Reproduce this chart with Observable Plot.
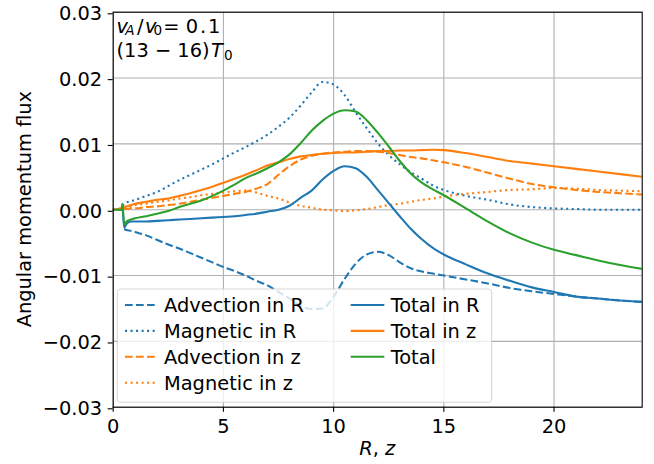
<!DOCTYPE html>
<html>
<head>
<meta charset="utf-8">
<script src="https://cdn.jsdelivr.net/npm/d3@7"></script>
<script src="https://cdn.jsdelivr.net/npm/@observablehq/plot@0.6"></script>
<style>
html, body { margin: 0; padding: 0; background: #fff; }
#chart svg { display: block; }
</style>
</head>
<body>
<div id="chart"></div>
<script>
// ---- data ----
const R = [0, 0.38, 0.42, 0.5, 0.6, 0.8, 1, 1.5, 2, 2.5, 3, 3.5, 4, 4.5, 5, 5.5, 6, 6.5, 7, 7.5, 8, 8.5, 9, 9.5, 10, 10.5, 11, 11.5, 12, 12.5, 13, 13.5, 14, 14.5, 15, 16, 17, 18, 19, 20, 21, 22, 23, 24];

const advectionR = [null, null, null, -0.0029, -0.0031, -0.0032, -0.0034, -0.0039, -0.0046, -0.0053, -0.0059, -0.0066, -0.0073, -0.0080, -0.0087, -0.0093, -0.0100, -0.0108, -0.0115, -0.0125, -0.0135, -0.0146, -0.0151, -0.0150, -0.0132, -0.0105, -0.0082, -0.0068, -0.0064, -0.0069, -0.0080, -0.0089, -0.0094, -0.0097, -0.0100, -0.0106, -0.0112, -0.0119, -0.0124, -0.0128, -0.0132, -0.0135, -0.0138, -0.0140];
const magneticR = [null, null, 0.0006, 0.0009, 0.0011, 0.0013, 0.0015, 0.0021, 0.0027, 0.0036, 0.0045, 0.0053, 0.0061, 0.0069, 0.0078, 0.0087, 0.0095, 0.0104, 0.0114, 0.0126, 0.0140, 0.0158, 0.0178, 0.0194, 0.0190, 0.0174, 0.0148, 0.0124, 0.0101, 0.0083, 0.0069, 0.0057, 0.0047, 0.0037, 0.0030, 0.0021, 0.0015, 0.0008, 0.0004, 0.0002, 0.0001, 0.0000, 0.0000, 0.0000];
const advectionZ = [0, 0.0001, 0.0001, 0.0001, 0.0001, 0.0002, 0.0002, 0.0004, 0.0005, 0.0007, 0.0009, 0.0012, 0.0015, 0.0018, 0.0021, 0.0024, 0.0027, 0.0032, 0.0039, 0.0053, 0.0066, 0.0076, 0.0082, 0.0085, 0.0087, 0.0088, 0.0089, 0.0089, 0.0088, 0.0086, 0.0083, 0.0080, 0.0078, 0.0075, 0.0072, 0.0065, 0.0056, 0.0047, 0.0039, 0.0034, 0.0030, 0.0027, 0.0025, 0.0023];
const magneticZ = [0, 0.0002, 0.0002, 0.0003, 0.0004, 0.0005, 0.0007, 0.0009, 0.0012, 0.0014, 0.0017, 0.0019, 0.0022, 0.0024, 0.0026, 0.0028, 0.0029, 0.0026, 0.0021, 0.0017, 0.0011, 0.0006, 0.0003, 0.0000, -0.0001, -0.0002, -0.0001, 0.0001, 0.0004, 0.0007, 0.0009, 0.0012, 0.0015, 0.0017, 0.0020, 0.0024, 0.0027, 0.0030, 0.0031, 0.0033, 0.0032, 0.0030, 0.0029, 0.0028];
const totalR = [0, 0, 0.0001, -0.0027, -0.0022, -0.0018, -0.0018, -0.0018, -0.0017, -0.0016, -0.0015, -0.0014, -0.0013, -0.0012, -0.0011, -0.0010, -0.0008, -0.0006, -0.0003, 0.0000, 0.0006, 0.0018, 0.0029, 0.0046, 0.0059, 0.0066, 0.0063, 0.0050, 0.0030, 0.0010, -0.0010, -0.0029, -0.0045, -0.0058, -0.0068, -0.0083, -0.0097, -0.0108, -0.0118, -0.0125, -0.0132, -0.0135, -0.0138, -0.0140];
const totalZ = [0, 0.0002, 0.0003, 0.0004, 0.0005, 0.0007, 0.0009, 0.0012, 0.0015, 0.0017, 0.0021, 0.0025, 0.0030, 0.0035, 0.0041, 0.0047, 0.0053, 0.0060, 0.0067, 0.0072, 0.0077, 0.0081, 0.0083, 0.0085, 0.0086, 0.0087, 0.0087, 0.0088, 0.0089, 0.0089, 0.0090, 0.0090, 0.00905, 0.0091, 0.00905, 0.0086, 0.0080, 0.0074, 0.0070, 0.0066, 0.0062, 0.0058, 0.0054, 0.0050];
const total = [0, 0.0000, 0.0009, -0.0023, -0.0018, -0.0015, -0.0013, -0.0010, -0.0006, -0.0002, 0.0004, 0.0009, 0.0014, 0.0021, 0.0029, 0.0038, 0.0048, 0.0055, 0.0063, 0.0072, 0.0084, 0.0101, 0.0120, 0.0135, 0.0146, 0.0151, 0.0149, 0.0136, 0.0117, 0.0096, 0.0074, 0.0055, 0.0041, 0.0031, 0.0022, 0.0002, -0.0018, -0.0036, -0.0050, -0.0061, -0.0069, -0.0077, -0.0084, -0.0090];

const seriesNames = ["Advection in R", "Magnetic in R", "Advection in z", "Magnetic in z", "Total in R", "Total in z", "Total"];
const xTicks = [0, 5, 10, 15, 20];
const yTicks = [-0.03, -0.02, -0.01, 0, 0.01, 0.02, 0.03];

// ---- styles ----
const C0 = "#1f77b4", C1 = "#ff7f0e", C2 = "#2ca02c";
const DASH = "7.7,3.3", DOT = "2.08,3.44";
const LW = 2.08;
const series = [
  {name: seriesNames[0], values: advectionR, color: C0, dash: DASH},
  {name: seriesNames[1], values: magneticR,  color: C0, dash: DOT},
  {name: seriesNames[2], values: advectionZ, color: C1, dash: DASH},
  {name: seriesNames[3], values: magneticZ,  color: C1, dash: DOT},
  {name: seriesNames[4], values: totalR,     color: C0, dash: null},
  {name: seriesNames[5], values: totalZ,     color: C1, dash: null},
  {name: seriesNames[6], values: total,      color: C2, dash: null}
];

const FS = 19.4;
const W = 654, H = 464;
const mL = 112.7, mR = 12.3, mT = 11.7, mB = 57.3;

const lineMarks = series.map(s => {
  const data = R.map((r, i) => ({r, v: s.values[i]})).filter(d => d.v != null);
  return Plot.line(data, {
    x: "r", y: "v",
    stroke: s.color, strokeWidth: LW,
    strokeDasharray: s.dash || undefined,
    strokeLinecap: s.dash ? "butt" : "square",
    strokeLinejoin: "round",
    curve: "monotone-x",
    clip: true
  });
});

const plot = Plot.plot({
  width: W, height: H,
  marginLeft: mL, marginRight: mR, marginTop: mT, marginBottom: mB,
  style: {fontFamily: "'DejaVu Sans', sans-serif", fontSize: FS + "px", background: "#fff", color: "#000"},
  x: {domain: [0, 24], label: null},
  y: {domain: [-0.03, 0.03], label: null},
  marks: [
    Plot.gridX(xTicks, {stroke: "#b0b0b0", strokeOpacity: 1, strokeWidth: 1.1}),
    Plot.gridY(yTicks, {stroke: "#b0b0b0", strokeOpacity: 1, strokeWidth: 1.1}),
    ...lineMarks,
    Plot.axisX(xTicks, {tickSize: 5, tickPadding: 6.8, strokeWidth: 1.1, tickFormat: d => String(d), label: null}),
    Plot.axisY(yTicks, {tickSize: 5, tickPadding: 6, strokeWidth: 1.1, dy: 1.6, tickFormat: d3.format(".2f"), label: null}),
    Plot.frame({stroke: "#000", strokeWidth: 1.1})
  ]
});

document.getElementById("chart").appendChild(plot);

// ---- overlays: labels, annotation, legend ----
const svg = d3.select(plot);
const font = "'DejaVu Sans', sans-serif";

// y label
svg.append("text")
  .attr("transform", `translate(30.5, ${(mT + H - mB) / 2}) rotate(-90)`)
  .attr("text-anchor", "middle")
  .attr("font-family", font).attr("font-size", FS).attr("fill", "#000")
  .text("Angular momentum flux");

// x label (mathtext R,z)
const xl = svg.append("text")
  .attr("x", (mL + W - mR) / 2).attr("y", 455)
  .attr("text-anchor", "middle")
  .attr("font-family", font).attr("font-size", FS).attr("fill", "#000");
xl.append("tspan").attr("font-style", "italic").text("R");
xl.append("tspan").text(", ");
xl.append("tspan").attr("font-style", "italic").text("z");

// annotation (mathtext-like spacing)
const SUB = FS * 0.7;
const a1 = svg.append("text").attr("y", 32.7).attr("text-anchor", "start")
  .attr("font-family", font).attr("font-size", FS).attr("fill", "#000");
a1.append("tspan").attr("x", 116.5).attr("font-style", "italic").text("v");
a1.append("tspan").attr("x", 125.3).attr("dy", 2).attr("font-style", "italic").attr("font-size", SUB).text("A");
a1.append("tspan").attr("x", 137).attr("dy", -2).text("/");
a1.append("tspan").attr("x", 145).attr("font-style", "italic").text("v");
a1.append("tspan").attr("x", 153.4).attr("dy", 2).attr("font-size", SUB).text("0");
a1.append("tspan").attr("x", 163.3).attr("dy", -2).text("=");
a1.append("tspan").attr("x", 185.7).text("0");
a1.append("tspan").attr("x", 200).text(".");
a1.append("tspan").attr("x", 208).text("1");

const a2 = svg.append("text").attr("y", 57).attr("text-anchor", "start")
  .attr("font-family", font).attr("font-size", FS).attr("fill", "#000");
a2.append("tspan").attr("x", 116.5).text("(13 \u2212 16)");
a2.append("tspan").attr("x", 211).attr("font-style", "italic").text("T");
a2.append("tspan").attr("x", 224).attr("dy", 2.7).attr("font-size", SUB).text("0");

// legend
const lg = svg.append("g").attr("text-anchor", "start");
lg.append("rect")
  .attr("x", 117.3).attr("y", 289).attr("width", 374.4).attr("height", 113.3)
  .attr("rx", 3.9).attr("ry", 3.9)
  .attr("fill", "#fff").attr("fill-opacity", 0.8)
  .attr("stroke", "#cccccc").attr("stroke-opacity", 0.8).attr("stroke-width", 1.1);
const rowY = [305, 330.9, 356.8, 382.7];
const cols = [{hx0: 125, hx1: 156, tx: 164}, {hx0: 351.7, hx1: 383.3, tx: 390.7}];
series.forEach((s, i) => {
  const c = cols[i < 4 ? 0 : 1];
  const y = rowY[i < 4 ? i : i - 4];
  lg.append("line")
    .attr("x1", c.hx0).attr("x2", c.hx1).attr("y1", y).attr("y2", y)
    .attr("stroke", s.color).attr("stroke-width", LW)
    .attr("stroke-dasharray", s.dash || null)
    .attr("stroke-linecap", s.dash ? "butt" : "square");
  lg.append("text")
    .attr("x", c.tx).attr("y", y + 6.9)
    .attr("text-anchor", "start")
    .attr("font-family", font).attr("font-size", FS).attr("fill", "#000")
    .text(s.name);
});
</script>
</body>
</html>
